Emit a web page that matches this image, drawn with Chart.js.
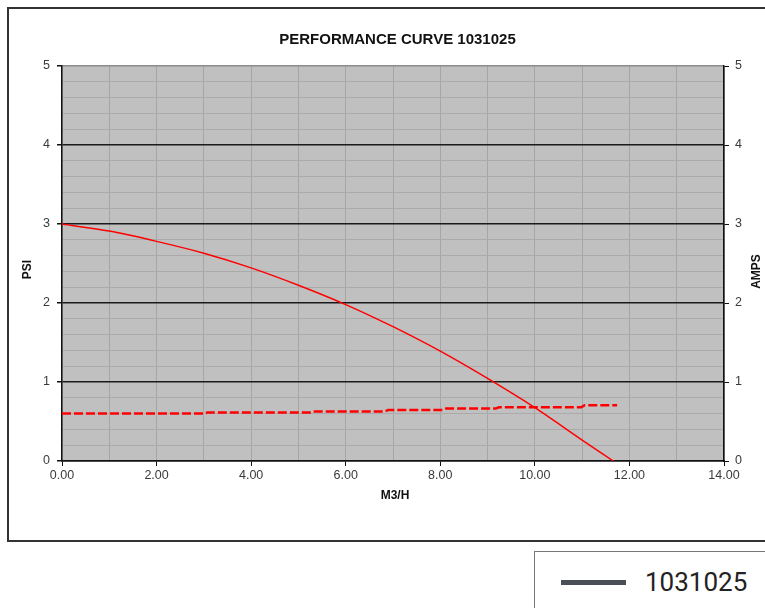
<!DOCTYPE html>
<html>
<head>
<meta charset="utf-8">
<title>Performance Curve 1031025</title>
<script src="https://cdn.jsdelivr.net/npm/chart.js@4.4.1/dist/chart.umd.min.js"></script>
<style>
  html, body { margin: 0; padding: 0; background: #fff; overflow: hidden; }
  #stage { position: relative; width: 765px; height: 608px; overflow: hidden; }
  #frame {
    position: absolute; left: 7px; top: 7px; width: 800px; height: 535px;
    border: 2px solid #333; box-sizing: border-box;
  }
  #chart-wrap { position: absolute; left: 0; top: 0; width: 765px; height: 608px; }
  #legend {
    position: absolute; left: 534px; top: 551px; width: 300px; height: 100px;
    border: 1px solid #777; box-sizing: border-box; background: #fff;
  }
  #legend .swatch {
    position: absolute; left: 26px; top: 28px; width: 65px; height: 5px; background: #4a4f57;
  }
  #legend .label {
    position: absolute; left: 110px; top: 13px;
    font: 26px Roboto, "Liberation Sans", sans-serif; color: #222; line-height: 34px;
  }
</style>
</head>
<body>
<div id="stage">
  <div id="frame"></div>
  <div id="chart-wrap"><canvas id="chart"></canvas></div>
  <div id="legend"><div class="swatch"></div><div class="label" id="legend-label"></div></div>
</div>
<script>
// --- data ---
const CHART_TITLE  = 'PERFORMANCE CURVE 1031025';
const LEGEND_LABEL = '1031025';
const X_TITLE = 'M3/H';
const Y_TITLE = 'PSI';
const Y2_TITLE = 'AMPS';

// pressure curve (PSI vs M3/H)
const flowPsi = [0, 1, 2, 3, 4, 5, 6, 7, 8, 9, 10, 11, 11.66];
const psi     = [3.0, 2.91, 2.78, 2.63, 2.445, 2.225, 1.98, 1.70, 1.39, 1.045, 0.675, 0.265, 0];

// current draw (AMPS vs M3/H), stepped readings
const flowAmps = [0, 3.0, 3.08, 5.25, 5.32, 6.83, 6.9, 8.05, 8.12, 9.17, 9.24, 10.98, 11.05, 11.74];
const amps     = [0.60, 0.60, 0.615, 0.615, 0.627, 0.627, 0.647, 0.647, 0.663, 0.663, 0.68, 0.68, 0.705, 0.705];

const X_MIN = 0, X_MAX = 14;
const Y_MIN = 0, Y_MAX = 5;

const FONT = '"Liberation Sans", Arial, sans-serif';
const isWhole = v => Math.abs(v - Math.round(v)) < 1e-6;

document.getElementById('legend-label').textContent = LEGEND_LABEL;

// axis titles drawn by hand so the right one reads bottom-to-top like the original
const axisTitles = {
  id: 'axisTitles',
  afterDraw(chart) {
    const { ctx, chartArea } = chart;
    const midY = (chartArea.top + chartArea.bottom) / 2 + 6;
    ctx.save();
    ctx.fillStyle = '#111';
    ctx.font = 'bold 12px ' + FONT;
    ctx.textAlign = 'center';
    ctx.textBaseline = 'middle';

    ctx.fillText(X_TITLE, 395, chartArea.bottom + 35);

    ctx.save();
    ctx.translate(28, midY);
    ctx.rotate(-Math.PI / 2);
    ctx.fillText(Y_TITLE, 0, 0);
    ctx.restore();

    ctx.save();
    ctx.translate(757, midY + 2);
    ctx.rotate(-Math.PI / 2);
    ctx.fillText(Y2_TITLE, 0, 0);
    ctx.restore();

    ctx.restore();
  },
};

const plotBg = {
  id: 'plotBg',
  beforeDraw(chart) {
    const { ctx, chartArea: a } = chart;
    ctx.save();
    ctx.fillStyle = '#c0c0c0';
    ctx.fillRect(a.left, a.top, a.right - a.left, a.bottom - a.top);
    ctx.restore();
  },
};

new Chart(document.getElementById('chart'), {
  type: 'line',
  data: {
    datasets: [
      {
        label: 'PSI',
        data: flowPsi.map((x, i) => ({ x, y: psi[i] })),
        yAxisID: 'y',
        borderColor: '#ff0000',
        borderWidth: 1.5,
        pointRadius: 0,
        tension: 0.3,
      },
      {
        label: 'AMPS',
        data: flowAmps.map((x, i) => ({ x, y: amps[i] })),
        yAxisID: 'y2',
        borderColor: '#ff0000',
        borderWidth: 2.5,
        borderDash: [9, 3],
        pointRadius: 0,
      },
    ],
  },
  options: {
    responsive: true,
    maintainAspectRatio: false,
    animation: false,
    layout: { padding: { left: 30, right: 0, top: 0, bottom: 0 } },
    plugins: {
      legend: { display: false },
      tooltip: { enabled: false },
      title: {
        display: true,
        text: CHART_TITLE,
        color: '#111',
        font: { family: FONT, size: 15, weight: 'bold', lineHeight: 1.2 },
        padding: { top: 31, bottom: 17 },
      },
    },
    scales: {
      x: {
        type: 'linear',
        min: X_MIN, max: X_MAX,
        afterFit: s => { s.height = 147; },
        ticks: {
          stepSize: 1,
          padding: 2,
          color: '#3a3a3a',
          font: { family: FONT, size: 12.5 },
          maxRotation: 0,
          autoSkip: false,
          callback: v => (v % 2 === 0 ? v.toFixed(2) : ''),
        },
        grid: {
          color: '#a6a6a6',
          lineWidth: 1,
          tickLength: 5,
          tickColor: ctx => (ctx.tick && ctx.tick.value % 2 === 0) ? '#111' : 'rgba(0,0,0,0)',
        },
        border: { color: '#111', width: 1.5 },
      },
      y: {
        position: 'left',
        min: Y_MIN, max: Y_MAX,
        afterFit: s => { s.width = 32; },
        ticks: {
          stepSize: 0.2,
          padding: 7,
          color: '#3a3a3a',
          font: { family: FONT, size: 12.5 },
          autoSkip: false,
          callback: v => (isWhole(v) ? String(Math.round(v)) : ''),
        },
        grid: {
          color: ctx => {
            const v = ctx.tick ? ctx.tick.value : 0;
            if (isWhole(v) && Math.round(v) === Y_MAX) return '#8c8c8c';
            return isWhole(v) ? '#1a1a1a' : '#aaaaaa';
          },
          lineWidth: ctx => (ctx.tick && isWhole(ctx.tick.value) ? 1.5 : 1),
          tickLength: 5,
          tickColor: ctx => (ctx.tick && isWhole(ctx.tick.value)) ? '#111' : 'rgba(0,0,0,0)',
        },
        border: { color: '#111', width: 1.5 },
      },
      y2: {
        position: 'right',
        min: Y_MIN, max: Y_MAX,
        afterFit: s => { s.width = 41; },
        ticks: {
          stepSize: 1,
          padding: 6,
          color: '#3a3a3a',
          font: { family: FONT, size: 12.5 },
        },
        grid: {
          drawOnChartArea: false,
          tickLength: 5,
          tickColor: '#111',
        },
        border: { color: '#111', width: 1.5 },
      },
    },
  },
  plugins: [plotBg, axisTitles],
});
</script>
</body>
</html>
